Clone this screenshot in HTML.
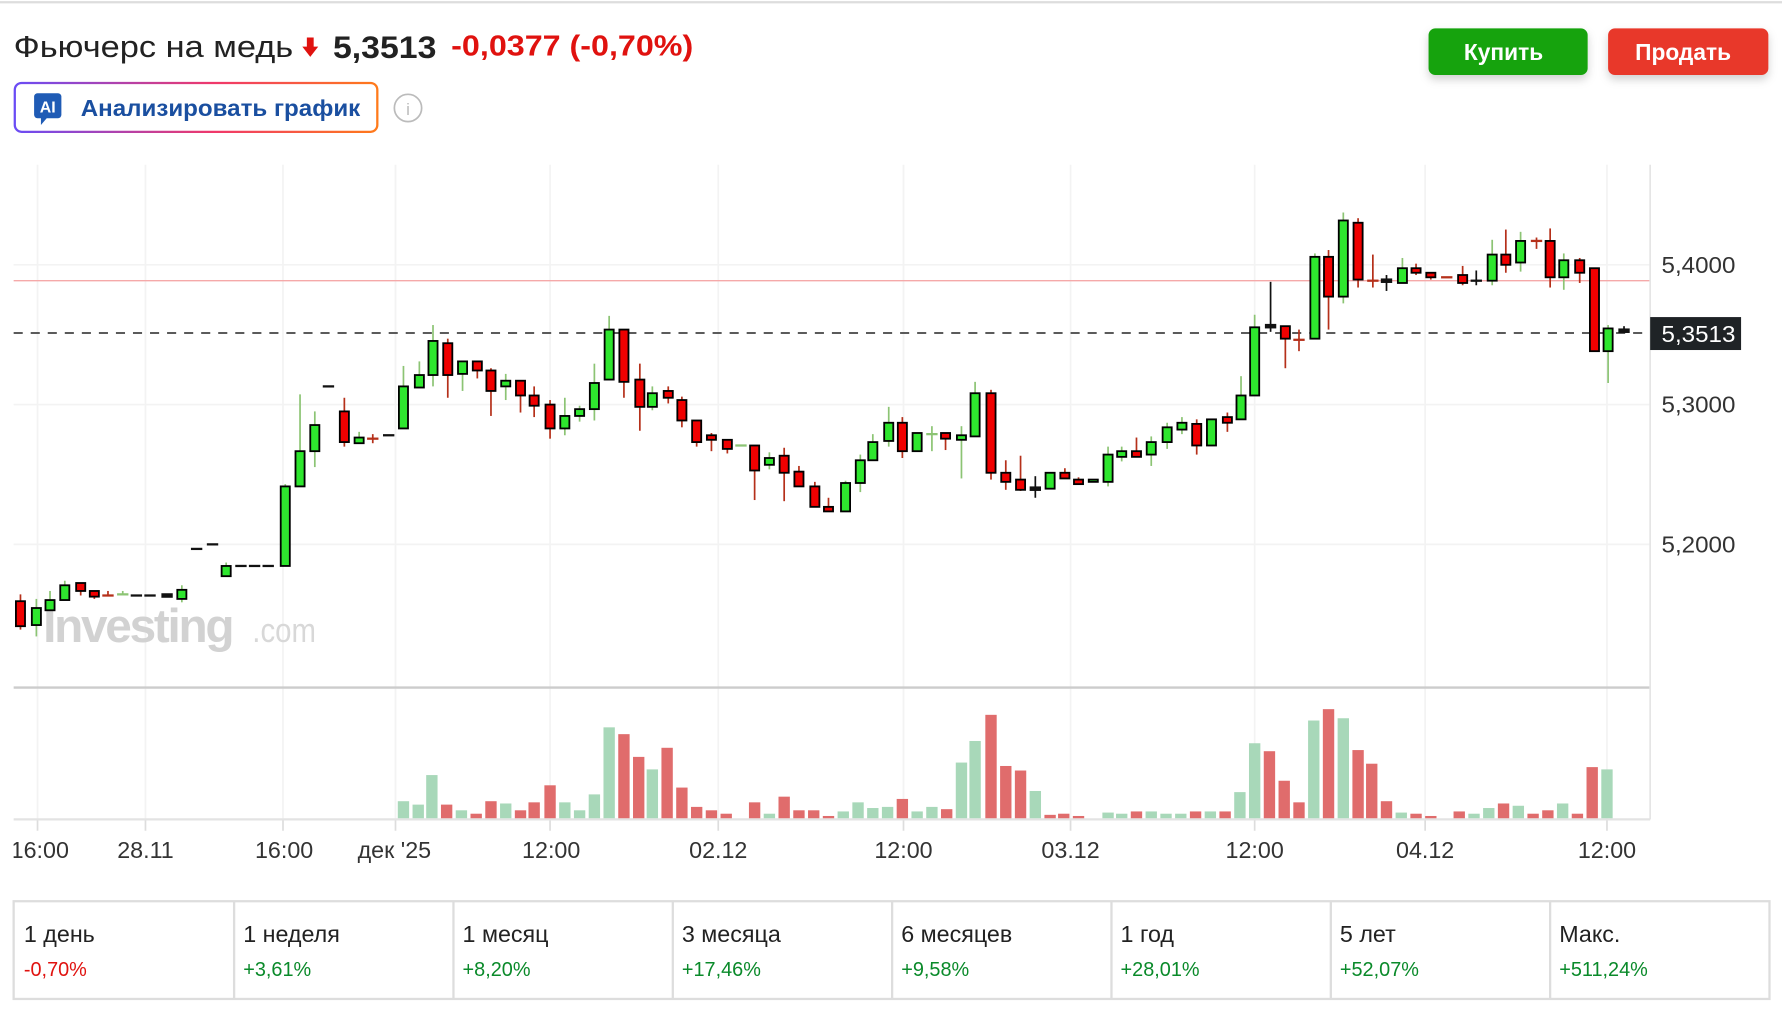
<!DOCTYPE html>
<html><head><meta charset="utf-8"><style>
html,body{margin:0;padding:0;background:#fff;width:1782px;height:1016px;overflow:hidden}
svg{display:block}
text{font-family:"Liberation Sans","DejaVu Sans",sans-serif}
</style></head><body>
<svg id="s" width="1782" height="1016" viewBox="0 0 1568 894" xmlns="http://www.w3.org/2000/svg">
<defs>
<linearGradient id="bg" x1="0" x2="1" y1="0" y2="0"><stop offset="0" stop-color="#6a4cf5"/><stop offset="0.55" stop-color="#f0386a"/><stop offset="1" stop-color="#ff7a1a"/></linearGradient>
<clipPath id="xc"><rect x="12" y="730" width="1550" height="40"/></clipPath>
<filter id="sh" x="-20%" y="-20%" width="140%" height="180%"><feDropShadow dx="0" dy="4" stdDeviation="4" flood-opacity="0.18"/></filter>
</defs>
<rect x="0" y="0" width="1568" height="894" fill="#fff"/>
<line x1="0" y1="2" x2="1568" y2="2" stroke="#ddd" stroke-width="2"/>
<text x="12" y="50" font-size="27" fill="#222" textLength="246" lengthAdjust="spacingAndGlyphs">Фьючерс на медь</text>
<path d="M270 33h6v8h4l-7 9-7-9h4z" fill="#e0120f"/>
<text x="293" y="51" font-size="28" font-weight="bold" fill="#222" textLength="91" lengthAdjust="spacingAndGlyphs">5,3513</text>
<text x="397" y="49" font-size="25" font-weight="bold" fill="#e0120f" textLength="213" lengthAdjust="spacingAndGlyphs">-0,0377 (-0,70%)</text>
<rect x="13" y="73" width="319" height="43" rx="6" fill="#fff" stroke="url(#bg)" stroke-width="2"/>
<rect x="30" y="82" width="24" height="22" rx="3" fill="#1f5bb5"/>
<path d="M36 103l0 7 6-7z" fill="#1f5bb5"/>
<text x="42" y="99" font-size="14" font-weight="bold" fill="#fff" text-anchor="middle">AI</text>
<text x="71" y="102" font-size="20" font-weight="bold" fill="#1a4fa0" textLength="246" lengthAdjust="spacingAndGlyphs">Анализировать график</text>
<circle cx="359" cy="95" r="12" fill="none" stroke="#bbb" stroke-width="1.5"/>
<text x="359" y="101" font-size="15" fill="#bbb" text-anchor="middle">i</text>
<rect x="1257" y="25" width="140" height="41" rx="6" fill="#14a30a" filter="url(#sh)"/>
<text x="1323" y="53" font-size="20" font-weight="bold" fill="#fff" text-anchor="middle">Купить</text>
<rect x="1415" y="25" width="141" height="41" rx="6" fill="#e8372a" filter="url(#sh)"/>
<text x="1481" y="53" font-size="20" font-weight="bold" fill="#fff" text-anchor="middle">Продать</text>
<g stroke="#f3f3f3" stroke-width="1.5" id="grid"></g>
<line x1="12" y1="233" x2="1452" y2="233" stroke="#f3f3f3" stroke-width="1.5"/>
<line x1="12" y1="356" x2="1452" y2="356" stroke="#f3f3f3" stroke-width="1.5"/>
<line x1="12" y1="479" x2="1452" y2="479" stroke="#f3f3f3" stroke-width="1.5"/>
<text x="38" y="565" font-size="42" font-weight="bold" fill="#d2d2d2" letter-spacing="-2">Investing</text>
<text x="222" y="565" font-size="30" fill="#d8d8d8" textLength="56" lengthAdjust="spacingAndGlyphs">.com</text>
<line x1="12" y1="247" x2="1452" y2="247" stroke="#f5a9a9" stroke-width="1.2"/>
<line x1="12" y1="293" x2="1452" y2="293" stroke="#444" stroke-width="1.5" stroke-dasharray="8,7"/>
<line x1="12" y1="605" x2="1452" y2="605" stroke="#ccc" stroke-width="2"/>
<line x1="12" y1="721" x2="1452" y2="721" stroke="#e3e3e3" stroke-width="2"/>
<line x1="1452" y1="145" x2="1452" y2="721" stroke="#e5e5e5" stroke-width="1.5"/>
<g id="vol"></g>
<g id="cdl"></g>
<g font-size="20" fill="#333">
<text x="1462" y="240" textLength="65" lengthAdjust="spacingAndGlyphs">5,4000</text>
<text x="1462" y="363" textLength="65" lengthAdjust="spacingAndGlyphs">5,3000</text>
<text x="1462" y="486" textLength="65" lengthAdjust="spacingAndGlyphs">5,2000</text>
</g>
<rect x="1452" y="279" width="80" height="29" fill="#1f2326"/>
<text x="1462" y="301" font-size="20" fill="#fff" textLength="65" lengthAdjust="spacingAndGlyphs">5,3513</text>
<g clip-path="url(#xc)" font-size="20.5" fill="#333" text-anchor="middle">
<text x="35" y="755">16:00</text><text x="128" y="755">28.11</text><text x="250" y="755">16:00</text><text x="347" y="755">дек '25</text><text x="485" y="755">12:00</text><text x="632" y="755">02.12</text><text x="795" y="755">12:00</text><text x="942" y="755">03.12</text><text x="1104" y="755">12:00</text><text x="1254" y="755">04.12</text><text x="1414" y="755">12:00</text>
</g>
<rect x="12" y="793" width="1545" height="86" fill="none" stroke="#ddd" stroke-width="2"/>
<g stroke="#ddd" stroke-width="2"><line x1="206" y1="793" x2="206" y2="879"/><line x1="399" y1="793" x2="399" y2="879"/><line x1="592" y1="793" x2="592" y2="879"/><line x1="785" y1="793" x2="785" y2="879"/><line x1="978" y1="793" x2="978" y2="879"/><line x1="1171" y1="793" x2="1171" y2="879"/><line x1="1364" y1="793" x2="1364" y2="879"/></g>
<g font-size="20.5" fill="#222">
<text x="21" y="829">1 день</text><text x="214" y="829">1 неделя</text><text x="407" y="829">1 месяц</text><text x="600" y="829">3 месяца</text><text x="793" y="829">6 месяцев</text><text x="986" y="829">1 год</text><text x="1179" y="829">5 лет</text><text x="1372" y="829">Макс.</text>
</g>
<g font-size="17.5" fill="#0a8a2a">
<text x="21" y="859" fill="#e0120f">-0,70%</text><text x="214" y="859">+3,61%</text><text x="407" y="859">+8,20%</text><text x="600" y="859">+17,46%</text><text x="793" y="859">+9,58%</text><text x="986" y="859">+28,01%</text><text x="1179" y="859">+52,07%</text><text x="1372" y="859">+511,24%</text>
</g>
</svg>
<script>
var NS="http://www.w3.org/2000/svg";
function el(p,n,a){var e=document.createElementNS(NS,n);for(var k in a)e.setAttribute(k,a[k]);p.appendChild(e);return e;}
var g=document.getElementById('grid');
[33,128,249,348,484,632,795,942,1104,1254,1414].forEach(function(x){el(g,'line',{x1:x,y1:145,x2:x,y2:721});el(g,'line',{x1:x,y1:721,x2:x,y2:731,stroke:'#ddd'});});
var C=[[18,529,551,523,554,'r'],[32,535,550,527,560,'g'],[44,528,537,520,537,'g'],[57,515,528,511,528,'g'],[71,513,520,513,524,'r'],[83,520,525,520,527,'r'],[95,524,524,520,524,'R'],[108,523,523,520,523,'G'],[120,524,524,524,524,'d'],[132,524,524,524,524,'d'],[147,524,526,524,526,'d'],[160,519,527,515,530,'g'],[173,483,483,483,483,'d'],[187,479,479,479,479,'d'],[199,498,507,495,507,'g'],[212,498,498,498,498,'d'],[224,498,498,498,498,'d'],[236,498,498,498,498,'d'],[251,428,498,426,498,'g'],[264,397,428,347,428,'g'],[277,374,397,362,411,'g'],[289,340,340,340,340,'d'],[303,362,389,350,393,'r'],[316,385,390,380,390,'g'],[328,386,386,382,390,'R'],[342,383,383,383,383,'d'],[355,340,377,322,377,'g'],[369,330,341,318,341,'g'],[381,300,330,286,340,'g'],[394,302,330,298,350,'r'],[407,318,329,318,344,'g'],[420,318,326,318,333,'r'],[432,326,344,324,366,'r'],[445,335,340,329,352,'g'],[458,335,348,335,363,'r'],[470,348,357,340,367,'r'],[484,356,377,352,386,'r'],[497,366,377,350,383,'g'],[510,360,366,357,371,'g'],[523,337,360,320,370,'g'],[536,290,334,278,334,'g'],[549,290,336,290,350,'r'],[563,334,358,320,379,'r'],[574,346,358,340,361,'g'],[588,344,350,340,355,'r'],[600,352,370,349,376,'r'],[613,370,389,370,393,'r'],[626,383,387,381,397,'r'],[640,387,395,387,399,'r'],[652,392,392,392,392,'G'],[664,392,414,392,440,'r'],[677,403,409,398,413,'g'],[690,401,416,394,441,'r'],[703,415,428,410,428,'r'],[717,428,446,424,446,'r'],[729,446,450,438,450,'r'],[744,425,450,423,450,'g'],[757,405,425,400,433,'g'],[768,389,405,382,405,'g'],[782,372,388,358,393,'g'],[794,372,397,367,403,'r'],[807,381,397,381,397,'g'],[820,382,382,375,397,'G'],[832,381,386,381,396,'r'],[846,383,387,375,421,'g'],[858,346,384,336,384,'g'],[872,346,416,343,422,'r'],[885,416,424,405,431,'r'],[898,422,431,401,432,'r'],[911,430,432,419,438,'d'],[924,416,430,416,430,'g'],[937,416,421,412,421,'r'],[949,422,426,420,426,'r'],[962,422,424,422,424,'g'],[975,400,424,393,428,'g'],[987,397,402,393,406,'g'],[1000,397,402,385,402,'r'],[1013,389,400,384,410,'g'],[1027,376,389,372,395,'g'],[1040,372,378,367,382,'g'],[1053,373,392,369,400,'r'],[1066,369,392,369,392,'g'],[1080,367,372,363,380,'r'],[1092,348,369,331,369,'g'],[1104,288,348,277,348,'g'],[1118,287,289,248,292,'d'],[1131,287,298,287,324,'r'],[1143,299,299,290,309,'R'],[1157,226,298,223,298,'g'],[1169,226,261,220,290,'r'],[1182,194,261,187,267,'g'],[1195,196,246,192,253,'r'],[1208,247,247,224,253,'R'],[1220,247,249,242,256,'d'],[1234,236,249,227,249,'g'],[1246,236,240,232,242,'r'],[1259,240,244,240,246,'r'],[1273,244,244,244,244,'R'],[1287,242,249,234,251,'r'],[1299,247,247,238,251,'K'],[1313,224,247,211,251,'g'],[1325,224,233,202,240,'r'],[1338,212,231,204,239,'g'],[1352,212,212,209,219,'R'],[1364,212,244,201,253,'r'],[1376,229,244,223,255,'g'],[1390,229,240,227,249,'r'],[1403,236,309,236,309,'r'],[1415,289,309,286,337,'g'],[1429,291,293,287,293,'d']];
var cg=document.getElementById('cdl');
C.forEach(function(c){var x=c[0],t=c[5],w=4;
 var wc=(t=='g'||t=='G')?'#8cc474':(t=='d'||t=='K')?'#111':'#b5301a';
 if(c[3]<c[1]||c[4]>c[2])el(cg,'line',{x1:x,y1:c[3],x2:x,y2:c[4],stroke:wc,'stroke-width':1.5});
 if(t=='g'||t=='r'){el(cg,'rect',{x:x-w,y:c[1],width:2*w,height:Math.max(c[2]-c[1],2),fill:t=='g'?'#2ee62e':'#f00000',stroke:'#000','stroke-width':1.6});}
 else{var col=(t=='G')?'#8cc474':(t=='R')?'#b5301a':'#111';el(cg,'line',{x1:x-w-1,y1:c[1],x2:x+w+1,y2:c[1],stroke:col,'stroke-width':(t=='d')?Math.max(2,c[2]-c[1]+2):2});}
});
var V=[[355,'g',705],[368,'g',708],[380,'g',682],[393,'r',708],[406,'g',713],[419,'r',716],[432,'r',705],[445,'g',707],[458,'r',713],[470,'r',706],[484,'r',691],[497,'g',706],[510,'g',713],[523,'g',699],[536,'g',640],[549,'r',646],[562,'r',666],[574,'g',677],[587,'r',658],[600,'r',693],[613,'r',710],[626,'r',713],[639,'r',716],[664,'r',706],[677,'g',716],[690,'r',701],[703,'r',713],[716,'r',713],[729,'r',718],[742,'g',714],[755,'g',706],[768,'g',711],[781,'g',710],[794,'r',703],[807,'g',714],[820,'g',710],[833,'r',712],[846,'g',671],[858,'g',652],[872,'r',629],[885,'r',674],[898,'r',678],[911,'g',696],[924,'r',717],[936,'r',716],[949,'r',718],[975,'g',715],[987,'g',716],[1000,'r',714],[1013,'g',714],[1026,'g',716],[1039,'g',716],[1052,'r',714],[1065,'g',714],[1078,'r',714],[1091,'g',697],[1104,'g',654],[1117,'r',661],[1130,'r',687],[1143,'r',706],[1156,'g',634],[1169,'r',624],[1182,'g',632],[1195,'r',660],[1207,'r',672],[1220,'r',705],[1233,'g',715],[1246,'r',716],[1259,'r',718],[1284,'r',714],[1297,'g',716],[1310,'g',711],[1323,'r',707],[1336,'g',709],[1349,'r',716],[1362,'r',713],[1375,'g',707],[1388,'r',716],[1401,'r',675],[1414,'g',677]];
var vg=document.getElementById('vol');
V.forEach(function(v){el(vg,'rect',{x:v[0]-5,y:v[2],width:10,height:720-v[2],fill:v[1]=='g'?'#a8d8b9':'#e06c6c'});});
</script>
</body></html>
